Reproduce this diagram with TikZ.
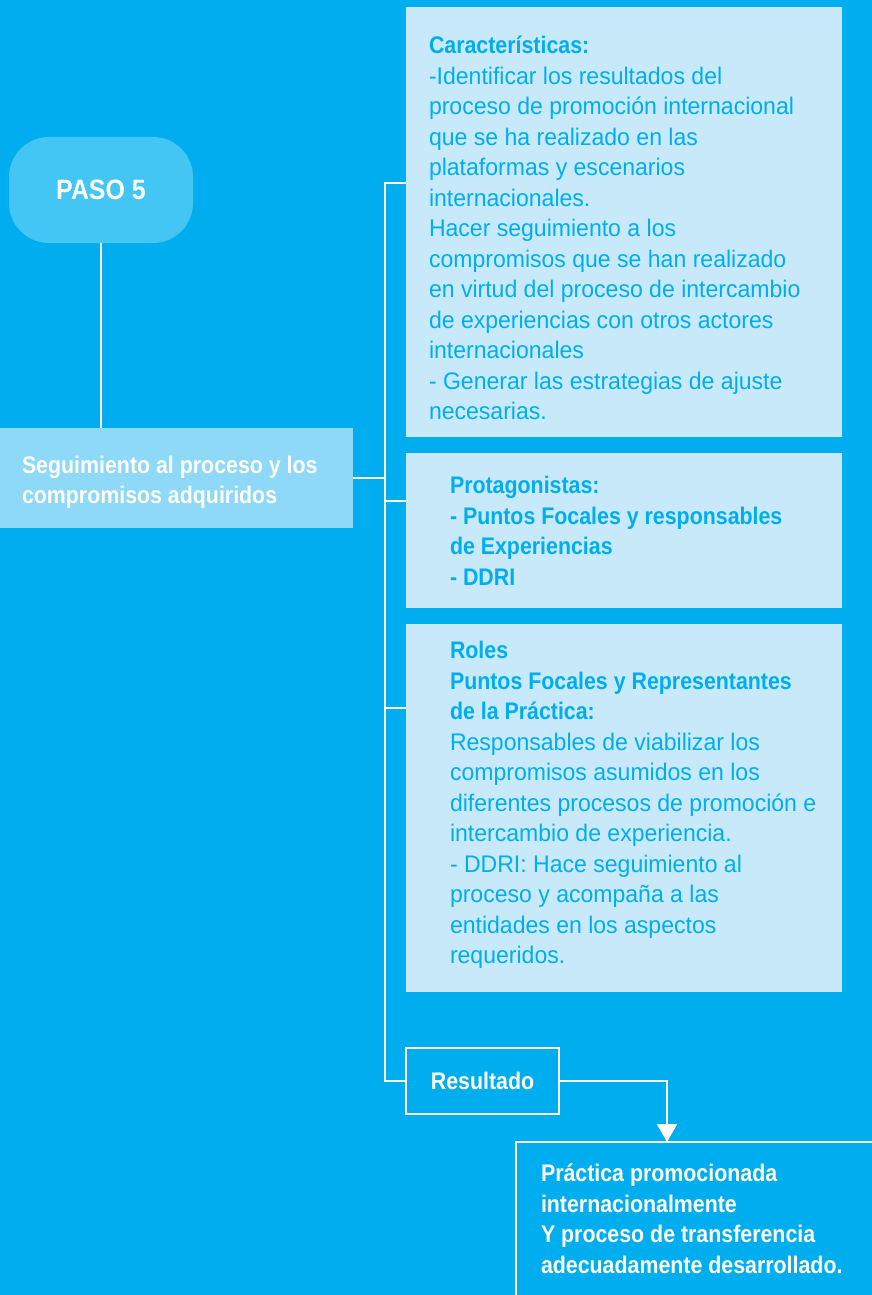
\documentclass[tikz,border=0pt]{standalone}
\usepackage{fontspec}
\setmainfont{Liberation Sans}[UprightFeatures={FakeStretch=0.96},BoldFeatures={FakeStretch=0.89}]
\usepackage{tikz}
\usetikzlibrary{positioning,arrows.meta,calc}

\definecolor{bgcyan}{HTML}{00AEEF}
\definecolor{pasofill}{HTML}{43C6F4}
\definecolor{segfill}{HTML}{8ED8F8}
\definecolor{infofill}{HTML}{C7E9F9}
\newcommand{\bodysize}{\fontsize{24}{30.5}\selectfont}

\begin{document}
\begin{tikzpicture}[x=1pt, y=-1pt,
      every node/.style={inner sep=0pt, outer sep=0pt},
      wire/.style={draw=white, line width=2pt},
      infobox/.style={fill=infofill, minimum width=436pt, anchor=north west},
      infotext/.style={anchor=north west, align=left, text=bgcyan, font=\bodysize},
      whitetext/.style={anchor=north west, align=left, text=white, font=\bodysize\bfseries},
      outline/.style={draw=white, line width=2pt, anchor=north west},
    ]
    % background
    \fill[bgcyan] (0,0) rectangle (872,1295);
    \useasboundingbox (0,0) rectangle (872,1295);
    % step and activity
    \node[fill=pasofill, rounded corners=40pt, minimum width=184pt, minimum height=106pt,
          anchor=north west, text=white, font=\fontsize{28}{34}\selectfont\bfseries] (paso) at (9,137) {PASO 5};
    \node[fill=segfill, minimum width=353pt, minimum height=100pt, anchor=north west] (seg) at (0,428) {};
    \node[whitetext] (segtext) at (22,452) {\strut Seguimiento al proceso y los\\compromisos adquiridos};
    % info boxes
    \node[infobox, minimum height=430pt] (charbox) at (406,7) {};
    \node[infotext] (chartext) at (429,32.6)
      {\strut\textbf{Características:}\\
       -Identificar los resultados del\\
       proceso de promoción internacional\\
       que se ha realizado en las\\
       plataformas y escenarios\\
       internacionales.\\
       Hacer seguimiento a los\\
       compromisos que se han realizado\\
       en virtud del proceso de intercambio\\
       de experiencias con otros actores\\
       internacionales\\
       - Generar las estrategias de ajuste\\
       necesarias.};
    \node[infobox, minimum height=155pt] (protbox) at (406,453) {};
    \node[infotext, font=\bodysize\bfseries] (prottext) at (450,472.3)
      {\strut Protagonistas:\\
       - Puntos Focales y responsables\\
       de Experiencias\\
       - DDRI};
    \node[infobox, minimum height=368pt] (rolebox) at (406,624) {};
    \node[infotext] (roletext) at (450,637.3)
      {\strut\textbf{Roles}\\
       \textbf{Puntos Focales y Representantes}\\
       \textbf{de la Práctica:}\\
       Responsables de viabilizar los\\
       compromisos asumidos en los\\
       diferentes procesos de promoción e\\
       intercambio de experiencia.\\
       - DDRI: Hace seguimiento al\\
       proceso y acompaña a las\\
       entidades en los aspectos\\
       requeridos.};
    % result
    \node[outline, minimum width=153pt, minimum height=66pt, text=white,
          font=\bodysize\bfseries] (resbox) at (406,1048) {Resultado};
    \node[outline, minimum width=420pt, minimum height=220pt] (outbox) at (516,1142) {};
    \node[whitetext] (outtext) at (541,1160.4)
      {\strut Práctica promocionada\\
       internacionalmente\\
       Y proceso de transferencia\\
       adecuadamente desarrollado.};
    % connectors
    \coordinate (bustop) at (385,183);
    \coordinate (jprot) at (385,501);
    \coordinate (jrole) at (385,708);
    \coordinate (drop) at (667,1142);
    \draw[wire] (paso.south) -- (paso.south |- seg.north);
    \draw[wire] (seg.east) -- (seg.east -| bustop);
    \draw[wire] (bustop -| charbox.west) -- (bustop) -- (bustop |- resbox.west) -- (resbox.west);
    \draw[wire] (jprot) -- (jprot -| protbox.west);
    \draw[wire] (jrole) -- (jrole -| rolebox.west);
    \draw[wire, -{Triangle[width=20pt, length=18pt]}] (resbox.east) -| (drop);
  \end{tikzpicture}
\end{document}
